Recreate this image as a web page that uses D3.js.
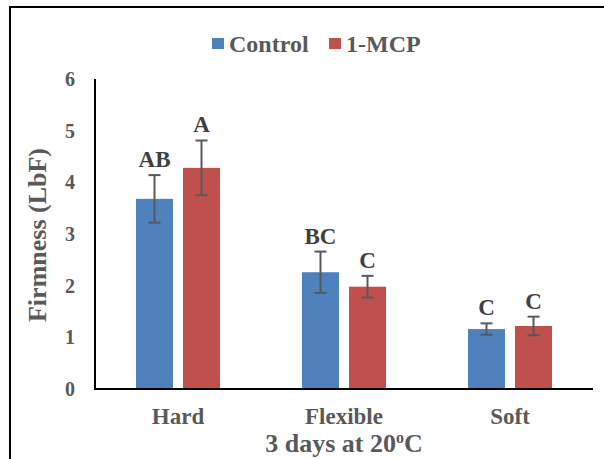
<!DOCTYPE html>
<html>
<head>
<meta charset="utf-8">
<script src="https://cdn.jsdelivr.net/npm/d3@7"></script>
<style>
  html, body { margin: 0; padding: 0; background: #fff; }
  svg { display: block; }
</style>
</head>
<body>
<svg id="chart" width="604" height="459"></svg>
<script>
// Firmness of fruit by softness class after 3 days at 20 °C
const categories = ["Hard", "Flexible", "Soft"];
const seriesNames = ["Control", "1-MCP"];
const controlValues = [3.68, 2.26, 1.16];
const mcpValues = [4.28, 1.98, 1.22];
const controlErrors = [0.46, 0.40, 0.11];
const mcpErrors = [0.53, 0.21, 0.18];
const controlLetters = ["AB", "BC", "C"];
const mcpLetters = ["A", "C", "C"];
const yTicks = [0, 1, 2, 3, 4, 5, 6];

const colors = { "Control": "#4F81BD", "1-MCP": "#C0504D" };
const FONT = "'Liberation Serif', Tinos, 'Times New Roman', serif";

const rows = categories.map((c, i) => ({
  category: c,
  bars: [
    { series: "Control", value: controlValues[i], err: controlErrors[i], letter: controlLetters[i] },
    { series: "1-MCP", value: mcpValues[i], err: mcpErrors[i], letter: mcpLetters[i] }
  ]
}));

const svg = d3.select("#chart").attr("font-family", FONT).attr("font-weight", "bold");

// outer frame (top and left edges visible)
svg.append("rect")
  .attr("x", 10).attr("y", 7)
  .attr("width", 620).attr("height", 480)
  .attr("fill", "none").attr("stroke", "#000").attr("stroke-width", 2);

const plot = { left: 95, right: 593, top: 79, bottom: 389 };
const groupWidth = 84;

const x0 = d3.scaleBand().domain(categories).range([plot.left, plot.right]);
const x1 = d3.scaleBand().domain(seriesNames).range([0, groupWidth]).paddingInner(0.213);
const y = d3.scaleLinear().domain([0, 6]).range([plot.bottom, plot.top]);

// y-axis tick labels (no tick marks)
svg.append("g").selectAll("text").data(yTicks).join("text")
  .attr("x", 75).attr("y", d => y(d))
  .attr("dy", "0.35em")
  .attr("text-anchor", "end")
  .attr("font-size", 20)
  .attr("fill", "#595959")
  .text(d => d);

// bars
const groups = svg.append("g").selectAll("g").data(rows).join("g")
  .attr("transform", d => `translate(${x0(d.category) + x0.bandwidth() / 2 - groupWidth / 2},0)`);

groups.selectAll("rect").data(d => d.bars).join("rect")
  .attr("x", d => x1(d.series))
  .attr("y", d => y(d.value))
  .attr("width", x1.bandwidth())
  .attr("height", d => y(0) - y(d.value))
  .attr("fill", d => colors[d.series]);

// error bars
const eb = groups.selectAll("g.err").data(d => d.bars).join("g").attr("class", "err")
  .attr("transform", d => `translate(${x1(d.series) + x1.bandwidth() / 2},0)`)
  .attr("stroke", "#595959").attr("stroke-width", 2);
eb.append("line").attr("x1", 0).attr("x2", 0)
  .attr("y1", d => y(d.value + d.err)).attr("y2", d => y(d.value - d.err));
eb.append("line").attr("x1", -6).attr("x2", 6)
  .attr("y1", d => y(d.value + d.err)).attr("y2", d => y(d.value + d.err));
eb.append("line").attr("x1", -6).attr("x2", 6)
  .attr("y1", d => y(d.value - d.err)).attr("y2", d => y(d.value - d.err));

// significance letters
groups.selectAll("text.sig").data(d => d.bars).join("text").attr("class", "sig")
  .attr("x", d => x1(d.series) + x1.bandwidth() / 2)
  .attr("y", d => y(d.value + d.err) - 8)
  .attr("text-anchor", "middle")
  .attr("font-size", 23)
  .attr("fill", "#404040")
  .text(d => d.letter);

// axis lines
svg.append("line")
  .attr("x1", plot.left).attr("x2", plot.left)
  .attr("y1", plot.top).attr("y2", plot.bottom + 1)
  .attr("stroke", "#000").attr("stroke-width", 2);
svg.append("line")
  .attr("x1", plot.left - 1).attr("x2", plot.right)
  .attr("y1", plot.bottom).attr("y2", plot.bottom)
  .attr("stroke", "#000").attr("stroke-width", 2);

// category labels
svg.append("g").selectAll("text").data(categories).join("text")
  .attr("x", d => x0(d) + x0.bandwidth() / 2)
  .attr("y", 424)
  .attr("text-anchor", "middle")
  .attr("font-size", 23)
  .attr("fill", "#595959")
  .text(d => d);

// x-axis title with superscript
const xt = svg.append("text")
  .attr("x", x0("Flexible") + x0.bandwidth() / 2)
  .attr("y", 452)
  .attr("text-anchor", "middle")
  .attr("font-size", 26)
  .attr("fill", "#595959");
xt.append("tspan").text("3 days at 20");
xt.append("tspan").attr("font-size", 16).attr("dy", -9).text("o");
xt.append("tspan").attr("dy", 9).text("C");

// y-axis title
svg.append("text")
  .attr("transform", "translate(46,235) rotate(-90)")
  .attr("text-anchor", "middle")
  .attr("font-size", 26)
  .attr("fill", "#595959")
  .text("Firmness (LbF)");

// legend
const legendItems = [
  { name: seriesNames[0], sx: 212, tx: 229 },
  { name: seriesNames[1], sx: 329, tx: 346 }
];
const legend = svg.append("g");
legend.selectAll("rect").data(legendItems).join("rect")
  .attr("x", d => d.sx).attr("y", 38)
  .attr("width", 12).attr("height", 11)
  .attr("fill", d => colors[d.name]);
legend.selectAll("text").data(legendItems).join("text")
  .attr("x", d => d.tx).attr("y", 52)
  .attr("font-size", 24)
  .attr("fill", "#595959")
  .text(d => d.name);
</script>
</body>
</html>
